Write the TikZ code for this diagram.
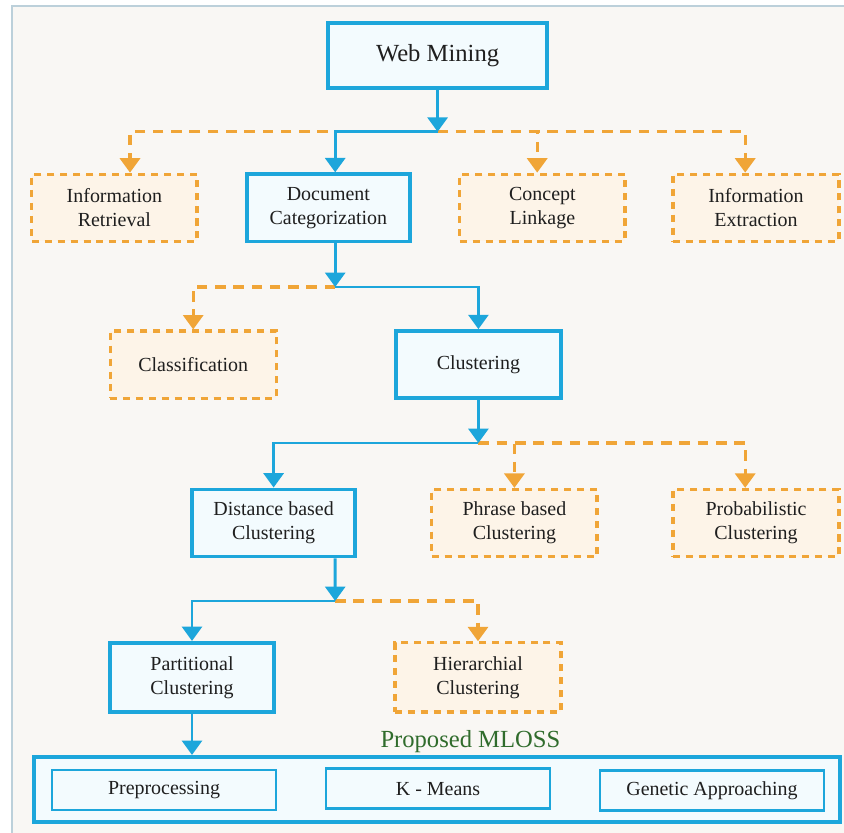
\documentclass[tikz,border=0pt]{standalone}
\usepackage{fontspec}
\setmainfont{Liberation Serif}
\usepackage{xcolor}
\definecolor{wmblue}{RGB}{29,166,219}
\definecolor{wmbluefill}{RGB}{243,251,254}
\definecolor{wmorange}{RGB}{240,165,55}
\definecolor{wmorangefill}{RGB}{253,244,232}
\definecolor{wmback}{RGB}{249,247,244}
\definecolor{wmframe}{RGB}{188,208,218}
\definecolor{wmgreen}{RGB}{48,108,44}
\usetikzlibrary{arrows.meta}

\begin{document}
\begin{tikzpicture}[
  solidbox/.style={draw=wmblue, fill=wmbluefill, line width=2.6pt, minimum height=1.68cm, inner sep=0pt, align=center, text=black!88, font=\fontsize{14.2}{17}\selectfont},
  dashbox/.style={draw=wmorange, fill=wmorangefill, line width=2.2pt, dash pattern=on 5pt off 4.2pt, minimum height=1.68cm, inner sep=0pt, align=center, text=black!88, font=\fontsize{14.2}{17}\selectfont},
  innerbox/.style={draw=wmblue, fill=wmbluefill, line width=2pt, minimum width=5.6cm, minimum height=1cm, inner sep=0pt, text=black!88, font=\fontsize{14.2}{17}\selectfont},
  blueline/.style={draw=wmblue, line width=2.1pt, -{Triangle[width=0.5cm, length=0.36cm]}},
  orangeline/.style={draw=wmorange, line width=2.3pt, dash pattern=on 7.5pt off 5.5pt, -{Triangle[width=0.5cm, length=0.36cm]}}
]
  \useasboundingbox (0,0) rectangle (21.1,20.825);
  \fill[white] (0,0) rectangle (21.1,20.825);
  \fill[wmback] (0.3,0) rectangle (21.1,20.675);
  \draw[wmframe, line width=1.4pt] (0.3,0) -- (0.3,20.675) -- (21.1,20.675);

  \node[solidbox, minimum width=5.48cm, minimum height=1.63cm, font=\fontsize{17.5}{20}\selectfont] (wm) at (10.94,19.44) {Web Mining};
  \coordinate (j1) at (10.94,17.53);

  \node[dashbox, minimum width=4.13cm] (ir) at (2.86,15.63) {Information\\Retrieval};
  \node[solidbox, minimum width=4.08cm] (dc) at (8.21,15.63) {Document\\Categorization};
  \node[dashbox, minimum width=4.13cm] (cl) at (13.56,15.63) {Concept\\Linkage};
  \node[dashbox, minimum width=4.15cm] (ie) at (18.9,15.63) {Information\\Extraction};
  \coordinate (j2) at (8.38,13.65);

  \node[dashbox, minimum width=4.15cm] (cf) at (4.83,11.71) {Classification};
  \node[solidbox, minimum width=4.13cm] (cu) at (11.96,11.71) {Clustering};
  \coordinate (j3) at (11.96,9.75);

  \node[solidbox, minimum width=4.08cm] (db) at (6.84,7.75) {Distance based\\Clustering};
  \node[dashbox, minimum width=4.13cm] (pb) at (12.86,7.75) {Phrase based\\Clustering};
  \node[dashbox, minimum width=4.15cm] (pc) at (18.9,7.75) {Probabilistic\\Clustering};
  \coordinate (j4) at (8.38,5.8);

  \node[solidbox, minimum width=4.1cm, minimum height=1.73cm] (pt) at (4.8,3.89) {Partitional\\Clustering};
  \node[dashbox, minimum width=4.15cm, minimum height=1.73cm] (hc) at (11.95,3.89) {Hierarchial\\Clustering};

  \node[draw=wmblue, fill=wmbluefill, line width=2.6pt, minimum width=20.15cm, minimum height=1.63cm] (ml) at (10.93,1.09) {};
  \node[anchor=base, text=wmgreen, font=\fontsize{17.5}{20}\selectfont] (mt) at (11.76,2.125) {Proposed MLOSS};
  \node[innerbox] (pp) at (4.1,1.075) {Preprocessing};
  \node[innerbox] (km) at (10.95,1.11) {K - Means};
  \node[innerbox] (ga) at (17.8,1.06) {Genetic Approaching};

  \draw[orangeline] (j1) -| ([xshift=0.39cm]ir.north);
  \draw[orangeline] (j1) -| ([xshift=-0.13cm]cl.north);
  \draw[orangeline] (j1) -| ([xshift=-0.27cm]ie.north);
  \draw[blueline] (wm.south) -- (j1);
  \draw[blueline] (j1) -| ([xshift=0.17cm]dc.north);

  \draw[orangeline] (j2) -| (cf.north);
  \draw[blueline] ([xshift=0.17cm]dc.south) -- (j2);
  \draw[blueline] (j2) -| (cu.north);

  \draw[orangeline] (j3) -| (pb.north);
  \draw[orangeline] (j3) -| ([xshift=-0.27cm]pc.north);
  \draw[blueline] (cu.south) -- (j3);
  \draw[blueline] (j3) -| (db.north);

  \draw[orangeline] (j4) -| (hc.north);
  \draw[blueline] ([xshift=1.54cm]db.south) -- (j4);
  \draw[blueline] (j4) -| (pt.north);
  \draw[blueline] (pt.south) -- (pt.south |- ml.north);
\end{tikzpicture}
\end{document}
